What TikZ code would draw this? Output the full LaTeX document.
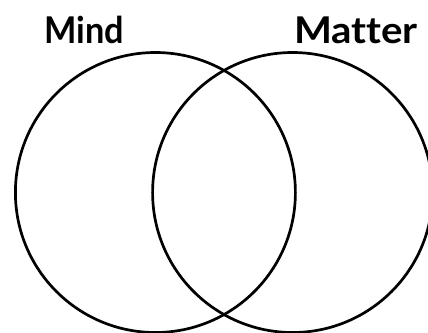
\documentclass[tikz,border=0pt]{standalone}
\usepackage{fontspec}
\setmainfont{Lato}[Ligatures=NoCommon]
\begin{document}
\begin{tikzpicture}[x=1bp,y=-1bp,
  setcircle/.style={circle, draw=black, line width=2.7bp, minimum size=280bp, inner sep=0pt},
  lbl/.style={font=\fontsize{37}{40}\selectfont\bfseries, inner sep=0pt, anchor=base west}]
\useasboundingbox (0,0) rectangle (428,333);
\clip (0,0) rectangle (428,333);
\node[setcircle] (mind) at (155.4,192.5) {};
\node[setcircle] (matter) at (292.6,192.5) {};
\node[lbl] (mindlbl) at (44,43) {\scalebox{0.93}[1]{Mind}};
\node[lbl] (matterlbl) at (294,43) {\scalebox{1.09}[1]{Matter}};
\end{tikzpicture}
\end{document}
